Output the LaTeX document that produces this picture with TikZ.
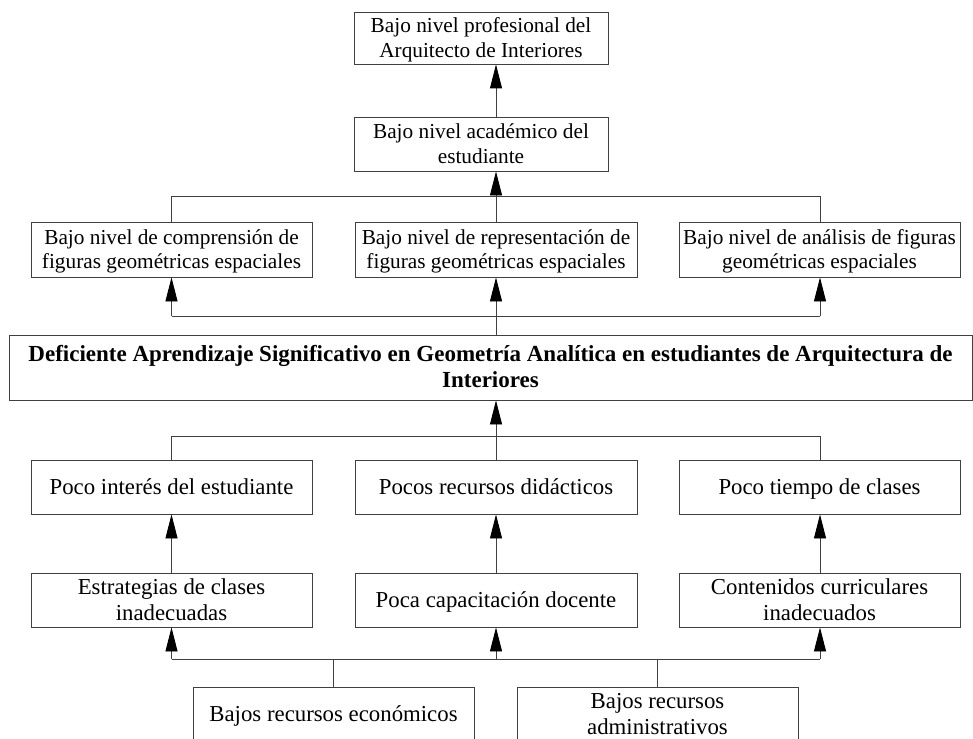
\documentclass[tikz,border=0pt]{standalone}
\usepackage{fontspec}
\setmainfont{Liberation Serif}
\usetikzlibrary{arrows.meta}
\newcommand\mystrut{\vrule width 0pt height 0.78\baselineskip depth 0.22\baselineskip}
\begin{document}
\begin{tikzpicture}[x=1pt,y=-1pt,
 box/.style={draw=black!75, line width=0.9pt, rectangle, inner sep=0pt, align=center, font=\fontsize{22.8}{26}\selectfont},
 smallbox/.style={box, font=\fontsize{21.3}{24.8}\selectfont},
 conn/.style={draw=black!75, line width=0.9pt},
 arr/.style={conn, -{Triangle[length=24pt,width=12pt,color=black]}}]
\useasboundingbox (0,0) rectangle (973,738);
\clip (0,0) rectangle (973,738);
% columns and rails
\coordinate (xL) at (171.5,0);
\coordinate (xM) at (496,0);
\coordinate (xR) at (820,0);
\coordinate (yA) at (0,196);
\coordinate (yB) at (0,316);
\coordinate (yC) at (0,436);
\coordinate (yD) at (0,659);
% nodes
\node[smallbox, minimum width=254pt, minimum height=52pt] (top) at (481,38) {\mystrut Bajo nivel profesional del\\\mystrut Arquitecto de Interiores};
\node[smallbox, minimum width=254pt, minimum height=54pt] (acad) at (481,144) {\mystrut Bajo nivel académico del\\\mystrut estudiante};
\node[smallbox, minimum width=281pt, minimum height=55pt] (comp) at (171.5,249.5) {\mystrut Bajo nivel de comprensión de\\\mystrut figuras geométricas espaciales};
\node[smallbox, minimum width=282pt, minimum height=55pt] (rep) at (496,249.5) {\mystrut Bajo nivel de representación de\\\mystrut figuras geométricas espaciales};
\node[smallbox, minimum width=281pt, minimum height=55pt] (anal) at (819.5,249.5) {\mystrut Bajo nivel de análisis de figuras\\\mystrut geométricas espaciales};
\node[box, font=\fontsize{23}{26}\selectfont\bfseries, minimum width=963pt, minimum height=65pt] (main) at (490.5,367.5) {\mystrut Deficiente Aprendizaje Significativo en Geometría Analítica en estudiantes de Arquitectura de\\\mystrut Interiores};
\node[box, minimum width=281pt, minimum height=54pt] (int) at (171.5,487) {\mystrut Poco interés del estudiante};
\node[box, minimum width=282pt, minimum height=54pt] (rec) at (496,487) {\mystrut Pocos recursos didácticos};
\node[box, minimum width=281pt, minimum height=54pt] (tie) at (819.5,487) {\mystrut Poco tiempo de clases};
\node[box, minimum width=281pt, minimum height=54pt] (est) at (171.5,600) {\mystrut Estrategias de clases\\\mystrut inadecuadas};
\node[box, minimum width=282pt, minimum height=54pt] (cap) at (496,600) {\mystrut Poca capacitación docente};
\node[box, minimum width=281pt, minimum height=54pt] (con) at (819.5,600) {\mystrut Contenidos curriculares\\\mystrut inadecuados};
\node[box, minimum width=281pt, minimum height=54pt] (eco) at (333.5,714) {\mystrut Bajos recursos económicos};
\node[box, minimum width=281pt, minimum height=54pt] (adm) at (657.5,714) {\mystrut Bajos recursos\\\mystrut administrativos};
% connectors top part
\draw[arr] (acad.north -| xM) -- (top.south -| xM);
\draw[conn] (comp.north -| xL) -- (xL |- yA) -- (xR |- yA) -- (anal.north -| xR);
\draw[arr] (rep.north -| xM) -- (acad.south -| xM);
\draw[conn] (xL |- yB) -- (xR |- yB);
\draw[arr] (xL |- yB) -- (comp.south -| xL);
\draw[arr] (xR |- yB) -- (anal.south -| xR);
\draw[arr] (main.north -| xM) -- (rep.south -| xM);
% lower part
\draw[conn] (int.north -| xL) -- (xL |- yC) -- (xR |- yC) -- (tie.north -| xR);
\draw[arr] (rec.north -| xM) -- (main.south -| xM);
\draw[arr] (est.north -| xL) -- (int.south -| xL);
\draw[arr] (cap.north -| xM) -- (rec.south -| xM);
\draw[arr] (con.north -| xR) -- (tie.south -| xR);
\draw[conn] (xL |- yD) -- (xR |- yD);
\draw[arr] (xL |- yD) -- (est.south -| xL);
\draw[arr] (xM |- yD) -- (cap.south -| xM);
\draw[arr] (xR |- yD) -- (con.south -| xR);
\draw[conn] (eco.north) -- (eco.north |- yD);
\draw[conn] (adm.north) -- (adm.north |- yD);
\end{tikzpicture}
\end{document}
